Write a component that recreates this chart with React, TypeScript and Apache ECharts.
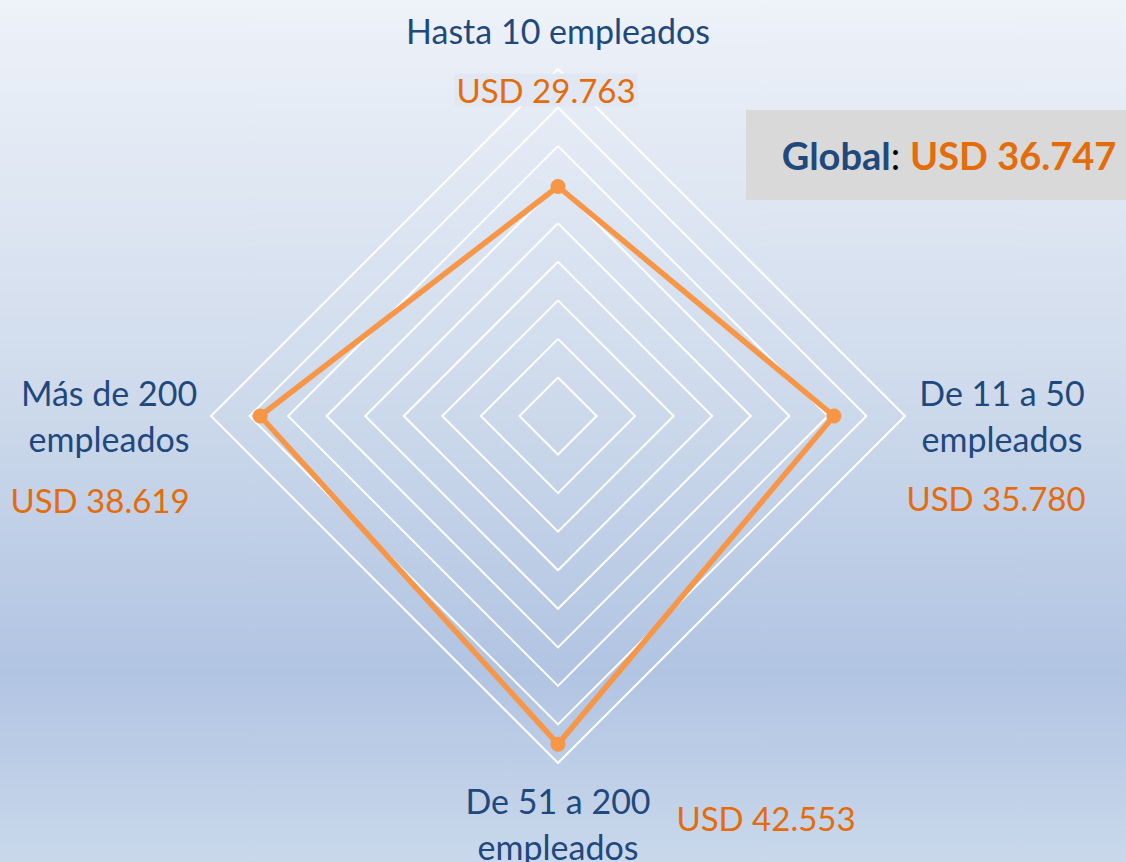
import React, { useEffect, useRef } from "react";
import * as echarts from "echarts";

// Indicators (clockwise from top as in the picture)
const categories = ["Hasta 10 empleados", "De 11 a 50\nempleados", "De 51 a 200\nempleados", "Más de 200\nempleados"];
const values = [29763, 35780, 42553, 38619];
const valueLabels = ["USD 29.763", "USD 35.780", "USD 42.553", "USD 38.619"];
const globalLabel = "Global";
const globalValue = "USD 36.747";
const axisMax = 45000;
const splitCount = 9;

const BLUE = "#1f497d";
const ORANGE = "#e46c0a";
const LINE = "#f79646";
const FONT = "Lato";

export default function App() {
  const ref = useRef<HTMLDivElement>(null);
  useEffect(() => {
    document.body.style.margin = "0";
    const chart = echarts.init(ref.current!, null, { renderer: "svg" });
    // ECharts radar runs counter-clockwise; reorder so the picture reads clockwise
    const order = [0, 3, 2, 1];
    const indicator = order.map((i) => ({ name: categories[i], min: 0, max: axisMax }));
    const data = order.map((i) => values[i]);

    const nameStyle = {
      fontFamily: FONT,
      fontSize: 34,
      fill: BLUE,
      lineHeight: 46,
    };
    const valStyle = {
      fontFamily: FONT,
      fontSize: 33,
      fill: ORANGE,
    };

    chart.setOption({
      animation: false,
      backgroundColor: {
        type: "linear",
        x: 0,
        y: 0,
        x2: 0,
        y2: 1,
        colorStops: [
          { offset: 0, color: "#eef2f9" },
          { offset: 0.45, color: "#cfdbec" },
          { offset: 0.78, color: "#b1c4e2" },
          { offset: 1, color: "#c9d8eb" },
        ],
      },
      radar: {
        center: [558, 416],
        radius: 347,
        startAngle: 90,
        shape: "polygon",
        splitNumber: splitCount,
        indicator,
        axisName: { show: false },
        axisLine: { show: false },
        axisTick: { show: false },
        axisLabel: { show: false },
        splitArea: { show: false },
        splitLine: { lineStyle: { color: "#ffffff", width: 2 } },
      },
      series: [
        {
          type: "radar",
          z: 2,
          symbol: "circle",
          symbolSize: 15,
          lineStyle: { color: LINE, width: 5.5 },
          itemStyle: { color: LINE },
          data: [{ value: data }],
        },
      ],
      graphic: [
        {
          type: "text",
          z: 10,
          x: 558,
          y: 30,
          style: { ...nameStyle, text: categories[0], align: "center", verticalAlign: "middle" },
        },
        {
          type: "text",
          z: 10,
          x: 546,
          y: 90,
          style: {
            ...valStyle,
            text: valueLabels[0],
            align: "center",
            verticalAlign: "middle",
            backgroundColor: "#e1e8f3",
            padding: [0, 2, 0, 2],
          },
        },
        {
          type: "text",
          z: 10,
          x: 1002,
          y: 415,
          style: { ...nameStyle, text: categories[1], align: "center", verticalAlign: "middle" },
        },
        {
          type: "text",
          z: 10,
          x: 996,
          y: 498,
          style: { ...valStyle, text: valueLabels[1], align: "center", verticalAlign: "middle" },
        },
        {
          type: "text",
          z: 10,
          x: 558,
          y: 823,
          style: { ...nameStyle, text: categories[2], align: "center", verticalAlign: "middle" },
        },
        {
          type: "text",
          z: 10,
          x: 766,
          y: 818,
          style: { ...valStyle, text: valueLabels[2], align: "center", verticalAlign: "middle" },
        },
        {
          type: "text",
          z: 10,
          x: 109,
          y: 415,
          style: { ...nameStyle, text: categories[3], align: "center", verticalAlign: "middle" },
        },
        {
          type: "text",
          z: 10,
          x: 100,
          y: 500,
          style: { ...valStyle, text: valueLabels[3], align: "center", verticalAlign: "middle" },
        },
        {
          type: "rect",
          z: 9,
          shape: { x: 746, y: 110, width: 380, height: 90 },
          style: { fill: "#d9d9d9" },
        },
        {
          type: "text",
          z: 10,
          x: 949,
          y: 155,
          style: {
            text: `{b|${globalLabel}}{k|: }{o|${globalValue}}`,
            align: "center",
            verticalAlign: "middle",
            rich: {
              b: { fontFamily: FONT, fontSize: 38, fontWeight: "bold", fill: BLUE, color: BLUE },
              k: { fontFamily: FONT, fontSize: 38, fill: "#000", color: "#000" },
              o: { fontFamily: FONT, fontSize: 38, fontWeight: "bold", fill: ORANGE, color: ORANGE },
            },
          },
        },
      ],
    });
    return () => chart.dispose();
  }, []);
  return <div ref={ref} style={{ width: 1126, height: 862 }} />;
}
